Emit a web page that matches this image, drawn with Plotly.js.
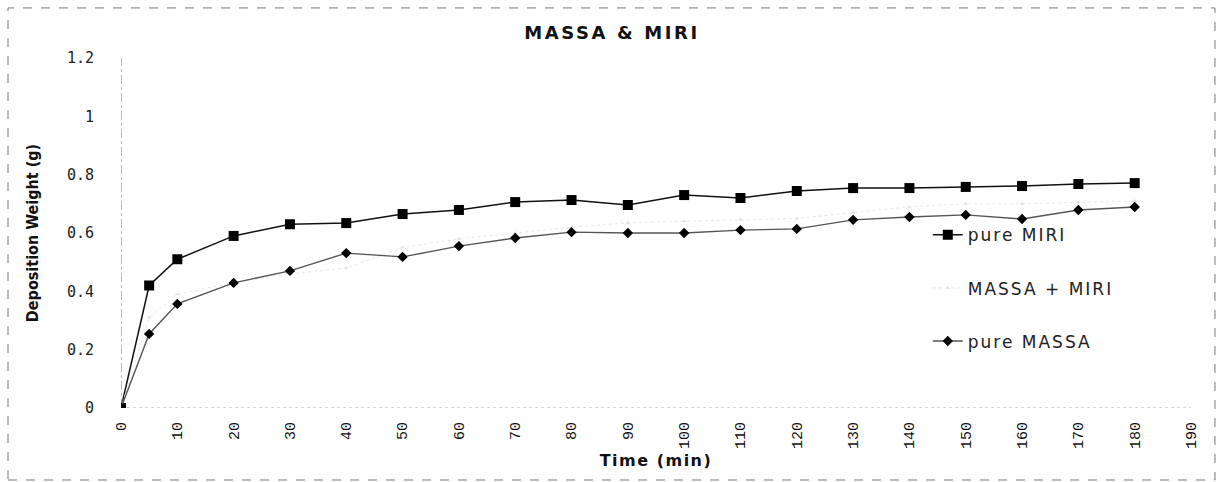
<!DOCTYPE html>
<html>
<head>
<meta charset="utf-8">
<script src="https://cdn.plot.ly/plotly-3.0.1.min.js"></script>
<style>
html,body{margin:0;padding:0;background:#fff;}
#chart{width:1225px;height:482px;}
.gtitle{letter-spacing:2.6px;}
.legendtext{letter-spacing:2px;}
.xtitle{letter-spacing:1.5px;}
</style>
</head>
<body>
<div id="chart"></div>
<script>
const time = [0, 5, 10, 20, 30, 40, 50, 60, 70, 80, 90, 100, 110, 120, 130, 140, 150, 160, 170, 180];
const pureMiri = [0, 0.42, 0.51, 0.59, 0.63, 0.634, 0.665, 0.679, 0.706, 0.713, 0.696, 0.73, 0.72, 0.744, 0.754, 0.754, 0.758, 0.761, 0.768, 0.771];
const massaMiri = [0, 0.31, 0.39, 0.43, 0.46, 0.48, 0.55, 0.58, 0.60, 0.62, 0.635, 0.64, 0.645, 0.65, 0.67, 0.69, 0.70, 0.70, 0.705, 0.71];
const pureMassa = [0, 0.254, 0.357, 0.429, 0.47, 0.531, 0.518, 0.555, 0.583, 0.603, 0.6, 0.6, 0.61, 0.614, 0.645, 0.655, 0.662, 0.648, 0.679, 0.689];
const xTicks = [0, 10, 20, 30, 40, 50, 60, 70, 80, 90, 100, 110, 120, 130, 140, 150, 160, 170, 180, 190];
const yTicks = [0, 0.2, 0.4, 0.6, 0.8, 1, 1.2];
const yTickText = ['0', '0.2', '0.4', '0.6', '0.8', '1', '1.2'];

const traces = [
  {x: time, y: pureMiri, name: 'pure MIRI', mode: 'lines+markers', legendgroup: 'a',
   line: {color: '#111', width: 1.5}, marker: {symbol: 'square', size: 10, color: '#000'}},
  {x: time, y: massaMiri, name: 'MASSA + MIRI', mode: 'lines+markers', legendgroup: 'b',
   line: {color: '#e8e8e8', width: 1, dash: 'dot'}, marker: {symbol: 'triangle-up', size: 4, color: '#e2e2e2'}},
  {x: time, y: pureMassa, name: 'pure MASSA', mode: 'lines+markers', legendgroup: 'c',
   line: {color: '#555', width: 1.4}, marker: {symbol: 'diamond', size: 8, color: '#000'}}
];

const layout = {
  width: 1225, height: 482,
  margin: {l: 121, r: 34, t: 58, b: 74},
  paper_bgcolor: '#fff', plot_bgcolor: '#fff',
  showlegend: true,
  title: {text: '<b>MASSA & MIRI</b>', xref: 'container', x: 0.4996, xanchor: 'center',
          yref: 'container', y: 1 - 33/482, yanchor: 'middle',
          font: {family: 'DejaVu Sans, Verdana, sans-serif', size: 18, color: '#111'}},
  xaxis: {
    range: [0, 190], tickvals: xTicks, ticktext: xTicks.map(String), tickangle: -90,
    showgrid: false, zeroline: false, showline: false, ticks: '', ticklabelstandoff: 10,
    tickfont: {family: 'Liberation Mono, DejaVu Sans Mono, monospace', size: 15, color: '#111'},
    title: {text: '<b>Time (min)</b>', standoff: 6,
            font: {family: 'DejaVu Sans, Verdana, sans-serif', size: 16, color: '#111'}}
  },
  yaxis: {
    range: [0, 1.2], tickvals: yTicks, ticktext: yTickText,
    showgrid: false, zeroline: false, showline: false, ticks: '', ticklabelstandoff: 26,
    tickfont: {family: 'DejaVu Sans Mono, Liberation Mono, monospace', size: 15, color: '#222'},
    title: {text: '<b>Deposition Weight (g)</b>', standoff: 24,
            font: {family: 'DejaVu Sans Condensed, Liberation Sans Narrow, sans-serif', size: 16, color: '#111'}}
  },
  legend: {x: 0.754, y: 0.545, xanchor: 'left', yanchor: 'top', bgcolor: 'rgba(0,0,0,0)',
           traceorder: 'grouped', tracegroupgap: 28,
           font: {family: 'DejaVu Sans, Verdana, sans-serif', size: 17, color: '#222'}},
  shapes: [
    {type: 'line', xref: 'x', yref: 'y', x0: 0, x1: 0, y0: 0, y1: 1.2,
     line: {color: '#777', width: 1, dash: 'dashdot'}, layer: 'below'},
    {type: 'line', xref: 'x', yref: 'y', x0: 0, x1: 190, y0: 0, y1: 0,
     line: {color: '#aaa', width: 1, dash: 'dot'}, layer: 'below'},
    {type: 'rect', xref: 'paper', yref: 'paper', x0: -0.1056, x1: 1.0224, y0: -0.2057, y1: 1.143,
     line: {color: '#777', width: 1, dash: 'dash'}, fillcolor: 'rgba(0,0,0,0)'}
  ]
};

Plotly.newPlot('chart', traces, layout, {displayModeBar: false, staticPlot: true});
</script>
</body>
</html>
